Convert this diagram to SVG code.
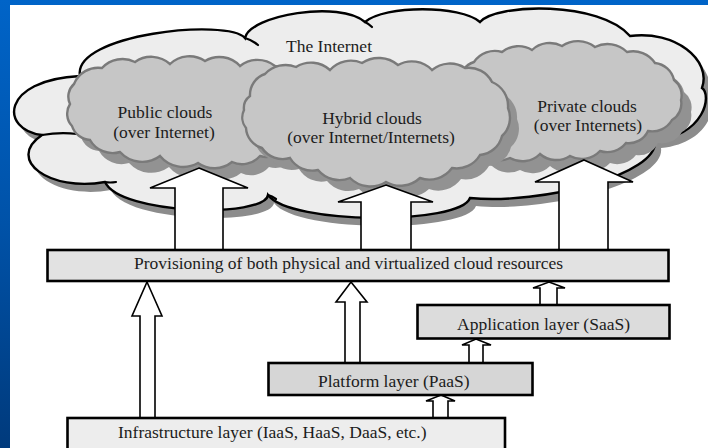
<svg xmlns="http://www.w3.org/2000/svg" width="708" height="448" viewBox="0 0 708 448">
  <defs>
    <linearGradient id="frame" x1="0" y1="0" x2="0" y2="1">
      <stop offset="0" stop-color="#0064c8"/>
      <stop offset="0.5" stop-color="#0052a8"/>
      <stop offset="1" stop-color="#003a7c"/>
    </linearGradient>
    <!-- outline of the large Internet cloud -->
    <path id="internetShape" d="M80,76 C72,34 228,18 245,38 C250,15 340,0 365,22 C385,5 460,5 480,22 C497,3 600,1 630,36 C675,30 712,60 702,88 C712,95 705,135 655,140 C660,175 540,205 470,198 C460,225 290,225 268,195 C265,218 120,215 105,182 C50,192 5,160 42,135 C0,130 0,80 80,76 Z"/>
    <!-- scalloped outlines of the three inner clouds -->
    <path id="publicShape" d="M74,84 A26,26 0 0 1 102,68 A28,28 0 0 1 135,62 A28,28 0 0 1 170,64 A28,28 0 0 1 205,61 A28,28 0 0 1 240,66 A28,28 0 0 1 275,66 A26,26 0 0 1 296,87 A28,28 0 0 1 300,120 A26,26 0 0 1 286,147 A24,24 0 0 1 260,156 A24,24 0 0 1 232,162 A28,28 0 0 1 198,163 A30,30 0 0 1 160,156 A30,30 0 0 1 120,152 A26,26 0 0 1 90,140 A20,20 0 0 1 72,126 A18,18 0 0 1 70,104 A17,17 0 0 1 74,84 Z"/>
    <path id="hybridShape" d="M250,96 A22,22 0 0 1 265,74 A28,28 0 0 1 296,67 A28,28 0 0 1 330,70 A28,28 0 0 1 362,63 A30,30 0 0 1 398,65 A28,28 0 0 1 432,70 A28,28 0 0 1 465,68 A26,26 0 0 1 492,82 A26,26 0 0 1 508,108 A25,25 0 0 1 502,136 A25,25 0 0 1 480,155 A27,27 0 0 1 452,168 A28,28 0 0 1 420,178 A29,29 0 0 1 386,182 A29,29 0 0 1 350,178 A28,28 0 0 1 318,170 A26,26 0 0 1 290,158 A25,25 0 0 1 262,148 A22,22 0 0 1 246,128 A17,17 0 0 1 244,110 A15,15 0 0 1 250,96 Z"/>
    <path id="privateShape" d="M460,82 A20,20 0 0 1 474,62 A25,25 0 0 1 502,52 A26,26 0 0 1 532,50 A26,26 0 0 1 562,46 A28,28 0 0 1 595,47 A28,28 0 0 1 627,52 A26,26 0 0 1 655,63 A22,22 0 0 1 674,80 A19,19 0 0 1 681,100 A19,19 0 0 1 672,120 A23,23 0 0 1 648,131 A21,21 0 0 1 626,143 A24,24 0 0 1 600,151 A25,25 0 0 1 570,156 A25,25 0 0 1 540,154 A25,25 0 0 1 510,158 A25,25 0 0 1 482,154 A22,22 0 0 1 468,132 A22,22 0 0 1 462,106 A20,20 0 0 1 460,82 Z"/>
  </defs>
  <style>
    .big-shadow { fill: #8c8c8c; }
    .big-cloud { fill: #ededed; stroke: #000; stroke-width: 2.4; }
    .tail { fill: none; stroke: #000; stroke-width: 2.2; stroke-linecap: round; }
    .sub-shadow { fill: #929292; }
    .sub-cloud { fill: #c6c6c6; stroke: #7a7a7a; stroke-width: 2.4; }
    .label { font-family: "Liberation Serif", "Times New Roman", serif; font-size: 17.5px; fill: #1c1c1c; }
    .mid { text-anchor: middle; }
    .box { stroke: #000; stroke-width: 2.6; }
    .arrow { fill: #fff; stroke: #000; stroke-width: 1.6; stroke-linejoin: miter; }
  </style>

  <!-- slide frame -->
  <rect x="0" y="0" width="708" height="448" fill="url(#frame)"/>
  <rect x="10" y="5" width="698" height="443" fill="#fff"/>

  <g id="internet-cloud">
    <use href="#internetShape" class="big-shadow" transform="translate(6,8)"/>
    <use href="#internetShape" class="big-cloud"/>
    <path class="tail" d="M42,135 Q60,132 77,134"/>
    <path class="tail" d="M105,182 Q110,183 116,182"/>
    <path class="tail" d="M245,38 Q252,40 258,45"/>
    <path class="tail" d="M365,22 Q369,24 372,27"/>
    <path class="tail" d="M268,195 Q272,196 276,199"/>
    <text class="label mid" x="329" y="52">The Internet</text>
  </g>

  <g id="public-cloud">
    <use href="#publicShape" class="sub-shadow" transform="translate(9,11)"/>
    <use href="#publicShape" class="sub-cloud"/>
    <text class="label mid" x="165" y="118">Public clouds</text>
    <text class="label mid" x="164" y="138">(over Internet)</text>
  </g>

  <g id="private-cloud">
    <use href="#privateShape" class="sub-shadow" transform="translate(10,12)"/>
    <use href="#privateShape" class="sub-cloud"/>
    <text class="label mid" x="587" y="112">Private clouds</text>
    <text class="label mid" x="588" y="131">(over Internets)</text>
  </g>

  <g id="hybrid-cloud">
    <use href="#hybridShape" class="sub-shadow" transform="translate(9,11)"/>
    <use href="#hybridShape" class="sub-cloud"/>
    <text class="label mid" x="372" y="124">Hybrid clouds</text>
    <text class="label mid" x="371" y="143">(over Internet/Internets)</text>
  </g>

  <g id="connectors">
    <!-- provisioning up to the three cloud types -->
    <path class="arrow" d="M199,168 L248,188 L223,188 L223,250 L175,250 L175,188 L150,188 Z"/>
    <path class="arrow" d="M386,185 L433,202 L411,202 L411,250 L361,250 L361,202 L338,202 Z"/>
    <path class="arrow" d="M584,160 L633,182 L608,182 L608,250 L559,250 L559,182 L535,182 Z"/>
    <!-- layers up to provisioning -->
    <path class="arrow" d="M147,282 L162,316 L155,316 L155,418 L140,418 L140,316 L132,316 Z"/>
    <path class="arrow" d="M351,282 L367,302 L360,302 L360,363 L345,363 L345,302 L336,302 Z"/>
    <path class="arrow" d="M549,282 L565,288 L557,288 L557,305 L540,305 L540,288 L533,288 Z"/>
    <!-- stacked layers -->
    <path class="arrow" d="M476,339 L491,345 L483,345 L483,363 L469,363 L469,345 L462,345 Z"/>
    <path class="arrow" d="M441,395 L455,401 L448,401 L448,418 L433,418 L433,401 L426,401 Z"/>
  </g>

  <g id="provisioning">
    <rect class="box" x="47.5" y="250" width="621" height="31" fill="#e2e2e2"/>
    <text class="label" x="134" y="269">Provisioning of both physical and virtualized cloud resources</text>
  </g>

  <g id="application-layer">
    <rect class="box" x="417.5" y="305" width="252" height="33.5" fill="#dcdcdc"/>
    <text class="label" x="457" y="330">Application layer (SaaS)</text>
  </g>

  <g id="platform-layer">
    <rect class="box" x="268.5" y="363" width="264" height="32" fill="#d6d6d6"/>
    <text class="label" x="318" y="387">Platform layer (PaaS)</text>
  </g>

  <g id="infrastructure-layer">
    <rect class="box" x="67.5" y="418" width="437.5" height="34" fill="#ededed"/>
    <text class="label" x="118" y="438">Infrastructure layer (IaaS, HaaS, DaaS, etc.)</text>
  </g>
</svg>
